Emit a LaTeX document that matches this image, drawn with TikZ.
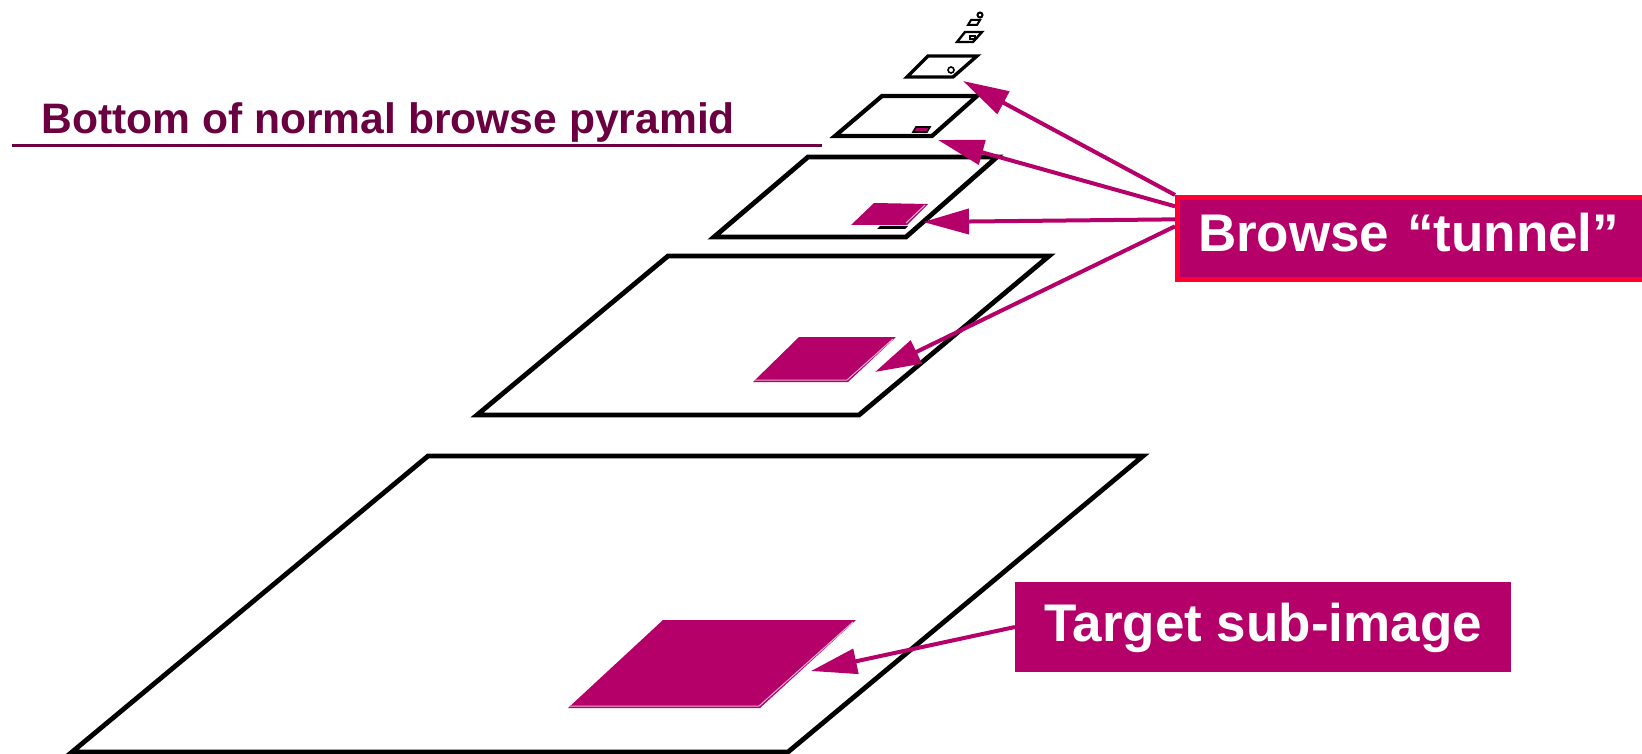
\documentclass[tikz,border=0pt]{standalone}
\usepackage{fontspec}
\setmainfont{Liberation Sans}
\usetikzlibrary{arrows.meta,calc}

\definecolor{tunnelmag}{RGB}{181,0,106}
\definecolor{tunnelred}{RGB}{255,0,51}
\definecolor{headmaroon}{RGB}{107,0,64}

\begin{document}
\begin{tikzpicture}[x=0.5pt, y=-0.5pt, >={Triangle[length=23pt, width=12.5pt]}]
\tikzstyle{plane}=[draw=black, line width=2.4pt]
\tikzstyle{patch}=[fill=tunnelmag]
\tikzstyle{glint}=[draw=tunnelmag!30, line width=0.5pt]
\tikzstyle{pointer}=[->, draw=tunnelmag, fill=tunnelmag, line width=2pt]
\tikzstyle{label box}=[fill=tunnelmag, text=white, font=\fontsize{26.5pt}{30pt}\selectfont\bfseries]

\useasboundingbox (0,0) rectangle (1642,754);
\clip (0,0) rectangle (1642,754);

% pyramid levels, bottom to top
\draw[plane] (428,456) -- (1143,456) -- (788,752) -- (72,752) -- cycle;
\draw[plane] (668,256) -- (1049,256) -- (859,415) -- (477,415) -- cycle;
\draw[plane] (808,157) -- (997,157) -- (906,237) -- (714,237) -- cycle;
\draw[plane, line width=2.1pt] (882,96) -- (977,96) -- (932,136) -- (835,136) -- cycle;
\draw[plane, line width=1.7pt] (928,56) -- (977,56) -- (953,77) -- (907,77) -- cycle;
\draw[plane, line width=1.2pt] (965,32) -- (982,32) -- (973,42) -- (957,42) -- cycle;
\draw[plane, line width=1pt] (971,20) -- (980,20) -- (977,25) -- (968,25) -- cycle;
\draw[plane, line width=1pt] (980,15) circle (2.5);

% sub-images
\fill[patch] (663,620) -- (856,620) -- (760,708) -- (568,708) -- cycle;
\draw[glint] (853,622) -- (759,706) -- (570,706);
\fill[patch] (799,337) -- (896,337) -- (848,382) -- (753,382) -- cycle;
\draw[glint] (893,339) -- (847,380) -- (755,380);
\fill[black] (880,226) -- (908,226) -- (905,229) -- (877,229) -- cycle;
\fill[patch] (874,203) -- (928,204) -- (907,225) -- (851,225) -- cycle;
\draw[glint] (925,205) -- (906,223);
\filldraw[patch, draw=black, line width=0.8pt] (916,127) -- (930,127) -- (927,132) -- (913,132) -- cycle;
\draw[line width=0.8pt] (951,70) circle (3);
\draw[line width=0.6pt] (970,36) rectangle (975,39);

% labels
\node[anchor=base west, inner sep=0pt, text=headmaroon, font=\fontsize{21.3pt}{24pt}\selectfont\bfseries] (bottom) at (41,134) {Bottom of normal browse pyramid};
\draw[headmaroon, line width=1.5pt] (12,146) -- (822,146);

\node[label box, draw=tunnelred, line width=2.5pt, anchor=north west, text width=250pt, align=left,
      inner xsep=10.25pt, inner ysep=0pt, minimum height=41pt, text height=20pt, text depth=7.5pt]
      (tunnel) at (1175,195) {Browse “tunnel”};
\node[label box, anchor=north west, outer sep=0pt, inner sep=0pt, minimum width=248pt, minimum height=45pt,
      text height=20pt, text depth=6pt] (target) at (1015,582) {Target sub-image};

% arrow tips
\coordinate (tip1) at (963,81);
\coordinate (tip2) at (938,140);
\coordinate (tip3) at (923,222);
\coordinate (tip4) at (875,372);
\coordinate (tip5) at (811,671);

\draw[pointer] (tunnel.north west) -- (tip1);
\draw[pointer] ($(tunnel.north west)!0.13!(tunnel.south west)$) -- (tip2);
\draw[pointer] ($(tunnel.north west)!0.28!(tunnel.south west)$) -- (tip3);
\draw[pointer] ($(tunnel.north west)!0.36!(tunnel.south west)$) -- (tip4);
\draw[pointer] (target.west) -- (tip5);
\end{tikzpicture}
\end{document}
